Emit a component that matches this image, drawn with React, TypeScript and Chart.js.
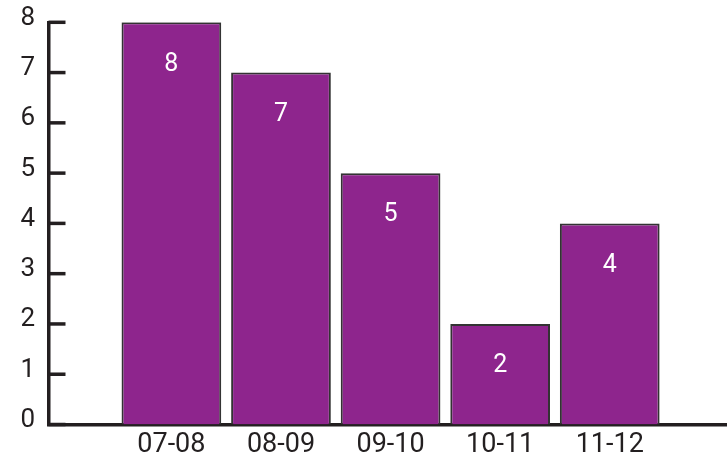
import React, { useEffect, useRef } from "react";
import { Chart, registerables } from "chart.js";

Chart.register(...registerables);

const categories = ["07-08", "08-09", "09-10", "10-11", "11-12"];
const values = [8, 7, 5, 2, 4];
const yTicks = [0, 1, 2, 3, 4, 5, 6, 7, 8];

const INK = "#231f20";
const BAR = "#8E258D";

const valueLabels = {
  id: "valueLabels",
  afterDatasetsDraw(chart: any) {
    const ctx = chart.ctx;
    const meta = chart.getDatasetMeta(0);
    ctx.save();
    ctx.fillStyle = "#ffffff";
    ctx.font = "25px Roboto";
    ctx.textAlign = "center";
    ctx.textBaseline = "middle";
    meta.data.forEach((el: any, i: number) => {
      ctx.fillText(String(values[i]), el.x, el.y + 42);
    });
    ctx.restore();
  },
};

const innerTicks = {
  id: "innerTicks",
  afterDraw(chart: any) {
    const ctx = chart.ctx;
    const y = chart.scales.y;
    const left = chart.chartArea.left;
    ctx.save();
    ctx.strokeStyle = INK;
    ctx.lineWidth = 3.5;
    ctx.lineCap = "butt";
    yTicks.forEach((v) => {
      const py = y.getPixelForValue(v);
      ctx.beginPath();
      ctx.moveTo(left, py);
      ctx.lineTo(left + 17, py);
      ctx.stroke();
    });
    ctx.restore();
  },
};

export default function App() {
  const ref = useRef<HTMLCanvasElement | null>(null);

  useEffect(() => {
    document.body.style.margin = "0";
    if (!ref.current) return;
    const chart = new Chart(ref.current, {
      type: "bar",
      data: {
        datasets: [
          {
            data: values.map((v, i) => ({ x: i, y: v })),
            backgroundColor: BAR,
            borderColor: "#333333",
            borderWidth: 2,
            barPercentage: 0.91,
            categoryPercentage: 1,
          },
        ],
      },
      options: {
        animation: false,
        responsive: true,
        maintainAspectRatio: false,
        layout: { padding: { top: 22.3, right: 0, left: 0, bottom: 0 } },
        plugins: { legend: { display: false }, tooltip: { enabled: false } },
        scales: {
          x: {
            type: "linear",
            offset: false,
            min: -1.1214,
            max: 5.07,
            afterBuildTicks: (scale: any) => {
              scale.ticks = categories.map((_, i) => ({ value: i }));
            },
            afterFit: (scale: any) => {
              scale.height = 38.5;
              scale.paddingLeft = 0;
              scale.paddingRight = 0;
              scale.paddingTop = 0;
              scale.paddingBottom = 0;
            },
            grid: { display: false, drawTicks: false },
            border: { display: true, width: 3.5, color: INK },
            ticks: {
              autoSkip: false,
              maxRotation: 0,
              padding: 5,
              color: INK,
              font: { family: "Roboto", size: 27 },
              callback: (v: any) => categories[v as number] ?? "",
            },
          },
          y: {
            min: 0,
            max: 8,
            afterBuildTicks: (scale: any) => {
              scale.ticks = yTicks.map((v) => ({ value: v }));
            },
            afterFit: (scale: any) => {
              scale.width = 48.5;
              scale.paddingLeft = 0;
              scale.paddingRight = 0;
              scale.paddingTop = 0;
              scale.paddingBottom = 0;
            },
            grid: { display: false, drawTicks: false },
            border: { display: true, width: 3.5, color: INK },
            ticks: {
              padding: 13.5,
              labelOffset: -4,
              color: INK,
              font: { family: "Roboto", size: 26 },
              callback: (v: any) => String(v),
            },
          },
        },
      },
      plugins: [valueLabels, innerTicks],
    });
    return () => chart.destroy();
  }, []);

  return (
    <div style={{ position: "relative", width: "727px", height: "463px" }}>
      <canvas ref={ref} />
    </div>
  );
}
